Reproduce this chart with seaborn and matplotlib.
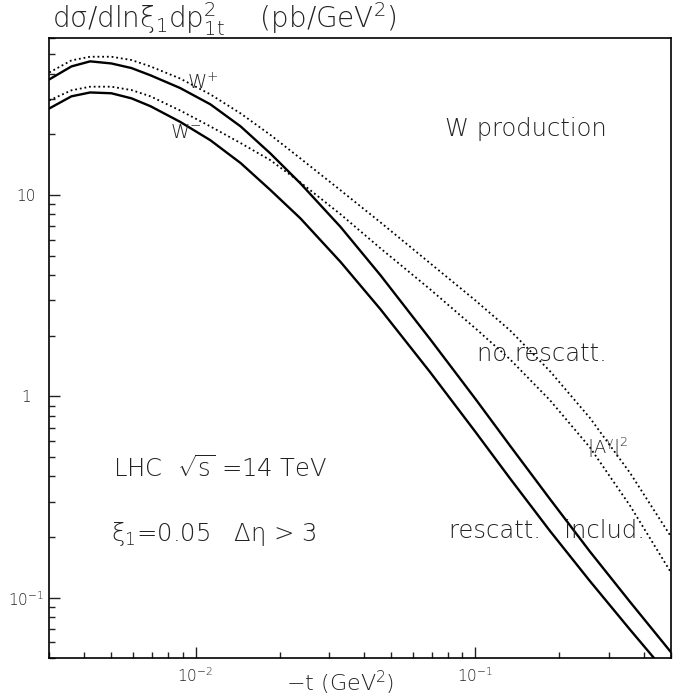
import numpy as np
import pandas as pd
import matplotlib
matplotlib.use("Agg")
import matplotlib.pyplot as plt
import matplotlib.ticker as mticker
from matplotlib import font_manager
import seaborn as sns

# ---- data ----
t_vals = [0.003, 0.0036, 0.0042, 0.005, 0.0059, 0.0069, 0.0088, 0.0113, 0.0145, 0.0185,
          0.0237, 0.033, 0.0458, 0.069, 0.1, 0.133, 0.185, 0.257, 0.358, 0.5]
wplus_resc = [37.5, 43.5, 46.1, 45.0, 42.7, 39.3, 34.0, 28.2, 21.9, 16.1,
              11.43, 6.94, 4.00, 1.923, 0.974, 0.570, 0.309, 0.1696, 0.0952, 0.0538]
wminus_resc = [26.9, 30.9, 32.3, 32.0, 30.2, 27.6, 23.1, 18.7, 14.4, 10.6,
               7.66, 4.65, 2.71, 1.318, 0.668, 0.392, 0.2146, 0.1210, 0.0693, 0.0400]
wplus_norescatt = [40.6, 46.6, 48.6, 48.6, 46.8, 43.5, 37.9, 31.6, 25.4, 19.9,
                   15.2, 10.55, 7.32, 4.58, 3.00, 2.13, 1.334, 0.782, 0.416, 0.202]
wminus_norescatt = [29.5, 33.1, 34.5, 34.5, 33.2, 30.9, 26.3, 21.9, 18.1, 14.9,
                    11.56, 8.02, 5.44, 3.40, 2.18, 1.530, 0.957, 0.558, 0.286, 0.1341]

x_ticks = [0.01, 0.1]
x_ticklabels = [r"$10^{-2}$", r"$10^{-1}$"]
y_ticks = [0.1, 1, 10]
y_ticklabels = [r"$10^{-1}$", "1", "10"]

df = pd.DataFrame({
    "t": t_vals * 4,
    "sigma": wplus_resc + wminus_resc + wplus_norescatt + wminus_norescatt,
    "curve": (["W+ resc"] * len(t_vals) + ["W- resc"] * len(t_vals)
              + ["W+ no"] * len(t_vals) + ["W- no"] * len(t_vals)),
})

sns.set_style("ticks")
plt.rcParams["font.family"] = ["DejaVu Sans"]

# use a light weight if one is installed (reference uses thin lettering)
names = {(f.name, f.weight) for f in font_manager.fontManager.ttflist}
light_ok = any(n == "DejaVu Sans" and (w in ("light", "extra light", 200, 300)
               or (isinstance(w, int) and w < 400)) for n, w in names)
weight = "light" if light_ok else "normal"
plt.rcParams["font.weight"] = weight
plt.rcParams["mathtext.fontset"] = "custom"
plt.rcParams["mathtext.rm"] = f"DejaVu Sans:{weight}"
plt.rcParams["mathtext.it"] = "DejaVu Sans:italic"
plt.rcParams["mathtext.bf"] = "DejaVu Sans:bold"
plt.rcParams["mathtext.fallback"] = "cm"

W, H = 680, 698
fig = plt.figure(figsize=(6.8, 6.98), dpi=100)
ax = fig.add_axes([49.3 / W, 1 - 658.3 / H, (670.7 - 49.3) / W, (658.3 - 38.3) / H])

for name, ls, lw in [("W+ resc", "-", 1.7), ("W- resc", "-", 1.7),
                     ("W+ no", (0, (1, 1.6)), 1.3), ("W- no", (0, (1, 1.6)), 1.3)]:
    sub = df[df["curve"] == name]
    sns.lineplot(data=sub, x="t", y="sigma", ax=ax, color="black",
                 linestyle=ls, linewidth=lw, legend=False, sort=True)

ax.set_xscale("log")
ax.set_yscale("log")
ax.set_xlim(0.003, 0.5)
ax.set_ylim(0.05, 60)

for s in ax.spines.values():
    s.set_linewidth(1.2)
    s.set_color("black")

tc = "#222222"
ax.set_xticks(x_ticks)
ax.set_xticklabels(x_ticklabels)
ax.set_yticks(y_ticks)
ax.set_yticklabels(y_ticklabels)
ax.xaxis.set_minor_locator(mticker.LogLocator(base=10, subs=np.arange(2, 10)))
ax.yaxis.set_minor_locator(mticker.LogLocator(base=10, subs=np.arange(2, 10)))
ax.xaxis.set_minor_formatter(mticker.NullFormatter())
ax.yaxis.set_minor_formatter(mticker.NullFormatter())
ax.tick_params(which="major", direction="in", length=8, width=1.0, labelsize=11,
               colors=tc)
ax.tick_params(which="minor", direction="in", length=4, width=1.0, colors=tc)
ax.tick_params(axis="y", which="major", pad=16.5)
ax.tick_params(axis="x", which="major", pad=6)
for lab in ax.get_yticklabels():
    lab.set_horizontalalignment("center")
ax.set_xlabel("")
ax.set_ylabel("")


def atext(px, py, s, size=17.5, ha="left"):
    fig.text(px / W, 1 - py / H, s, fontsize=size, color=tc, ha=ha, va="center",
             fontweight=weight)


atext(52, 19, r"dσ/dlnξ$_1$dp$^2_{\mathrm{1t}}$    (pb/GeV$^2$)", size=20)
atext(340, 683, r"$-$t (GeV$^2$)", size=16, ha="center")
atext(445, 129, "W production")
atext(477, 354, "no rescatt.")
atext(587, 448, r"|A$^{\mathrm{γ}}$|$^2$", size=13)
atext(449, 531, "rescatt.   includ.")
atext(113, 469, r"LHC  $\sqrt{\mathrm{s}}$ =14 TeV")
atext(111, 534, r"ξ$_1$=0.05   Δη > 3")
atext(187, 83, r"W$^{+}$", size=14)
atext(170, 133, r"W$^{-}$", size=14)

fig.savefig("out.png", dpi=100)
